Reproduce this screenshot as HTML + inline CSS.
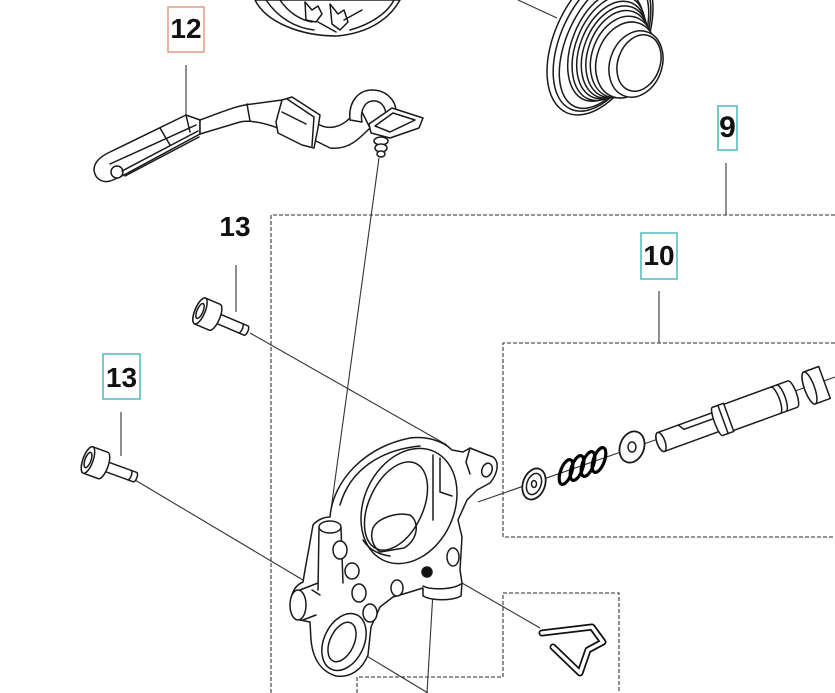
<!DOCTYPE html>
<html><head><meta charset="utf-8">
<style>
html,body{margin:0;padding:0;background:#fff;}
svg{display:block;}
text{font-family:"Liberation Sans",Arial,sans-serif;font-weight:bold;fill:#111;}
</style></head><body>
<svg width="835" height="693" viewBox="0 0 835 693" xmlns="http://www.w3.org/2000/svg">
<rect width="835" height="693" fill="#fff"/>

<!-- dashed group outlines -->
<g fill="none" stroke="#555" stroke-width="1.3" stroke-dasharray="4 2">
  <path d="M271,693 V215 H835"/>
  <path d="M835,343 H503 V537 H835"/>
  <path d="M357,693 V677 H503 V593 H619 V693"/>
</g>

<!-- leader lines -->
<g stroke="#333" stroke-width="1.1" fill="none">
  <line x1="186" y1="65" x2="186" y2="116"/>
  <line x1="236" y1="265" x2="236" y2="312"/>
  <line x1="121" y1="412" x2="121" y2="456"/>
  <line x1="726" y1="163" x2="726" y2="215"/>
  <line x1="659" y1="291" x2="659" y2="343"/>
  <line x1="518" y1="0" x2="557" y2="18"/>
  <line x1="379" y1="158" x2="330" y2="517"/>
  <line x1="250" y1="333" x2="447" y2="445"/>
  <line x1="135" y1="480" x2="303" y2="580"/>
  <line x1="478" y1="502" x2="835" y2="377"/>
  <line x1="462" y1="583" x2="540" y2="628"/>
  <line x1="433" y1="592" x2="427" y2="693"/>
  <line x1="340" y1="640" x2="428" y2="693"/>
</g>

<!-- labels -->
<rect x="168" y="7" width="36" height="45" fill="none" stroke="#e49a84" stroke-width="1.5"/>
<text x="186" y="38" font-size="28" text-anchor="middle">12</text>
<rect x="718" y="106" width="19" height="44" fill="none" stroke="#4fb8c4" stroke-width="1.5"/>
<text x="727.5" y="137" font-size="30" text-anchor="middle">9</text>
<rect x="641" y="233" width="36" height="46" fill="none" stroke="#4fb8c4" stroke-width="1.5"/>
<text x="659" y="265" font-size="28" text-anchor="middle">10</text>
<rect x="103" y="354" width="37" height="45" fill="none" stroke="#4fb8c4" stroke-width="1.5"/>
<text x="121.5" y="387" font-size="28" text-anchor="middle">13</text>
<text x="235" y="236" font-size="28" text-anchor="middle">13</text>

<g fill="#fff" stroke="#1a1a1a" stroke-width="1.5" stroke-linejoin="round" stroke-linecap="round">

<!-- top drum (partial) -->
<path d="M255,0 C266,22 300,36 337,36 C370,33 390,18 400,0 Z"/>
<path d="M266,0 C278,18 296,28 314,30" fill="none"/>
<path d="M280,0 C288,12 300,20 312,22" fill="none"/>
<path d="M350,30 C372,24 388,12 394,0" fill="none"/>
<path d="M305,2 L312,10 L318,6 L322,14 L316,22 L306,20 Z"/>
<path d="M330,4 L338,14 L344,10 L348,22 L340,30 L332,24 Z"/>
<path d="M318,22 L336,32 M344,20 L362,10" fill="none"/>

<!-- threaded cylinder top right -->
<ellipse cx="600" cy="40" rx="45" ry="80" transform="rotate(25 600 40)"/>
<ellipse cx="602" cy="41" rx="41" ry="75" transform="rotate(25 602 41)" fill="none"/>
<ellipse cx="604" cy="43" rx="37" ry="70" transform="rotate(25 604 43)" fill="none"/>
<ellipse cx="606" cy="46" rx="34" ry="58" transform="rotate(22 606 46)"/>
<ellipse cx="609" cy="48" rx="33" ry="55" transform="rotate(22 609 48)"/>
<ellipse cx="612" cy="50" rx="32" ry="51" transform="rotate(22 612 50)"/>
<ellipse cx="615" cy="52" rx="31" ry="48" transform="rotate(21 615 52)"/>
<ellipse cx="618" cy="54" rx="30" ry="45" transform="rotate(20 618 54)"/>
<ellipse cx="622" cy="57" rx="30" ry="42" transform="rotate(20 622 57)"/>
<ellipse cx="626" cy="60" rx="29" ry="39" transform="rotate(20 626 60)"/>
<ellipse cx="636" cy="64" rx="26" ry="34" transform="rotate(20 636 64)"/>
<ellipse cx="639" cy="63" rx="21" ry="29" transform="rotate(20 639 63)"/>

<!-- hose (part 12) -->
<path d="M108,153 L186,115 L200,120 L200,134 L124,175 L113,180 C104,184 95,180 94,170 C94,162 100,157 108,153 Z"/>
<circle cx="117" cy="172" r="6"/>
<path d="M110,164 L196,125 M122,171 L198,131 M125,176 L199,137 M160,128 L170,145 M186,115 L190,132" fill="none"/>
<path d="M200,120 C222,112 238,105 252,104 L282,100 L278,128 C262,122 250,120 240,122 L200,134 Z"/>
<path d="M247,104 L250,121" fill="none"/>
<path d="M318,124 C328,130 340,128 350,118 L362,112 L370,128 C358,140 348,150 330,148 L314,140 Z"/>
<path d="M276,122 L282,100 L292,97 L320,115 L318,128 L314,148 L302,145 L278,133 Z"/>
<path d="M287,99 L314,117 L312,146 M282,112 L306,124" fill="none"/>
<path d="M350,120 C348,100 360,90 372,90 C386,90 396,100 396,112 L386,116 C386,106 380,100 372,101 C364,102 360,112 362,122 Z"/>
<path d="M369,124 L392,108 L423,118 L419,128 L390,138 L371,133 Z"/>
<path d="M375,126 L393,113 L415,120 L390,132 Z" fill="none"/>
<ellipse cx="381" cy="141" rx="7" ry="4"/>
<ellipse cx="381" cy="148" rx="6" ry="4"/>
<ellipse cx="381" cy="154" rx="4" ry="3"/>

<!-- screws -->
<g transform="translate(200,311) rotate(23)">
  <path d="M16,-5 L50,-5 A2,5 0 0 1 50,5 L16,5 Z"/>
  <path d="M44,-5 A2,5 0 0 1 44,5" fill="none"/>
  <path d="M0,-14 L16,-14 A5,14 0 0 1 16,14 L0,14 A5,14 0 0 1 0,-14 Z"/>
  <ellipse cx="0" cy="0" rx="5" ry="14"/>
  <ellipse cx="0" cy="0" rx="3" ry="8" fill="none"/>
</g>
<g transform="translate(88,460) rotate(20)">
  <path d="M16,-5 L50,-5 A2,5 0 0 1 50,5 L16,5 Z"/>
  <path d="M44,-5 A2,5 0 0 1 44,5" fill="none"/>
  <path d="M0,-14 L16,-14 A5,14 0 0 1 16,14 L0,14 A5,14 0 0 1 0,-14 Z"/>
  <ellipse cx="0" cy="0" rx="5" ry="14"/>
  <ellipse cx="0" cy="0" rx="3" ry="8" fill="none"/>
</g>

<!-- pump body -->
<path d="M330,517 C333,480 365,447 410,438 C425,436 442,440 452,450 L463,452 L470,448 L480,452 L493,457 C499,461 499,472 490,483 L477,490 L467,500 L458,520 L462,537 L460,570 L462,583 L461,596 C452,601 432,601 423,596 L423,588 L410,592 L393,597 L380,607 L371,627 L368,655 C362,670 350,678 336,676 C322,672 313,660 311,640 L310,622 L300,620 C293,618 289,610 291,600 C292,591 296,585 303,582 L305,570 L309,548 L313,525 C318,519 325,517 330,517 Z"/>
<path d="M340,505 C350,470 380,450 420,446" fill="none"/>
<ellipse cx="409" cy="506" rx="45" ry="60" transform="rotate(25 409 506)"/>
<ellipse cx="396" cy="506" rx="27" ry="47" transform="rotate(25 396 506)"/>
<path d="M373,528 C378,518 396,512 410,515 C420,522 418,540 404,548 L380,552 C372,546 370,536 373,528 Z" fill="none"/>
<path d="M363,540 C368,548 376,554 390,556" fill="none"/>
<path d="M433,455 L433,520 M440,458 L440,492 L452,496" fill="none"/>
<ellipse cx="487" cy="470" rx="5" ry="7" transform="rotate(20 487 470)"/>
<path d="M470,448 L466,462 L470,474" fill="none"/>
<ellipse cx="330" cy="527" rx="11" ry="6"/>
<path d="M319,528 L318,590 M341,528 L343,583" fill="none"/>
<ellipse cx="298" cy="605" rx="8" ry="15"/>
<path d="M300,590 L318,583 M303,620 L316,615 M312,590 L320,595" fill="none"/>
<ellipse cx="344" cy="642" rx="20" ry="30" transform="rotate(25 344 642)"/>
<ellipse cx="342" cy="642" rx="12" ry="21" transform="rotate(25 342 642)"/>
<ellipse cx="340" cy="550" rx="7" ry="9"/>
<ellipse cx="352" cy="571" rx="7" ry="8"/>
<ellipse cx="359" cy="593" rx="7" ry="9"/>
<ellipse cx="370" cy="613" rx="7" ry="9"/>
<ellipse cx="397" cy="588" rx="6" ry="8"/>
<ellipse cx="453" cy="557" rx="6" ry="9"/>
<path d="M423,586 C430,590 452,590 461,584" fill="none"/>
<circle cx="427" cy="572" r="5" fill="#111"/>

<!-- spring assembly -->
<ellipse cx="534" cy="484" rx="11" ry="16" transform="rotate(20 534 484)" stroke-width="1.8"/>
<ellipse cx="534" cy="484" rx="7" ry="11" transform="rotate(20 534 484)" fill="none"/>
<ellipse cx="534" cy="484" rx="2.5" ry="3.5" fill="none"/>
<g fill="none" stroke="#000" stroke-width="3.2">
  <ellipse cx="566" cy="472" rx="5.5" ry="13" transform="rotate(20 566 472)"/>
  <ellipse cx="577" cy="468" rx="5.5" ry="13" transform="rotate(20 577 468)"/>
  <ellipse cx="588" cy="464" rx="5.5" ry="13" transform="rotate(20 588 464)"/>
  <ellipse cx="599" cy="460" rx="5.5" ry="13" transform="rotate(20 599 460)"/>
</g>
<ellipse cx="632" cy="447" rx="12" ry="16" transform="rotate(20 632 447)" stroke-width="1.8"/>
<ellipse cx="632" cy="447" rx="4" ry="5" fill="none"/>

<g transform="translate(661,442) rotate(-20)">
  <path d="M0,-10 L62,-10 L62,10 L0,10 A4,10 0 0 1 0,-10 Z"/>
  <ellipse cx="0" cy="0" rx="4" ry="10"/>
  <path d="M22,-10 L26,-4 L62,-4" fill="none"/>
  <path d="M70,-14 L140,-14 A4,14 0 0 1 140,14 L70,14 Z"/>
  <path d="M122,-14 A4,14 0 0 1 122,14 M128,-14 A4,14 0 0 1 128,14" fill="none"/>
  <path d="M60,-15 L72,-15 L72,15 L60,15 A3,15 0 0 1 60,-15 Z"/>
  <path d="M66,-15 L66,15" fill="none"/>
  <path d="M158,-17 L174,-17 L174,17 L158,17 A5,17 0 0 1 158,-17 Z"/>
  <ellipse cx="158" cy="0" rx="5" ry="17"/>
</g>

<!-- wire clip -->
<path d="M542,633 L592,627 L603,642 L588,650 L580,673 L553,647" fill="none" stroke="#111" stroke-width="7"/>
<path d="M542,633 L592,627 L603,642 L588,650 L580,673 L553,647" fill="none" stroke="#fff" stroke-width="3.5"/>
</g>
</svg>
</body></html>
